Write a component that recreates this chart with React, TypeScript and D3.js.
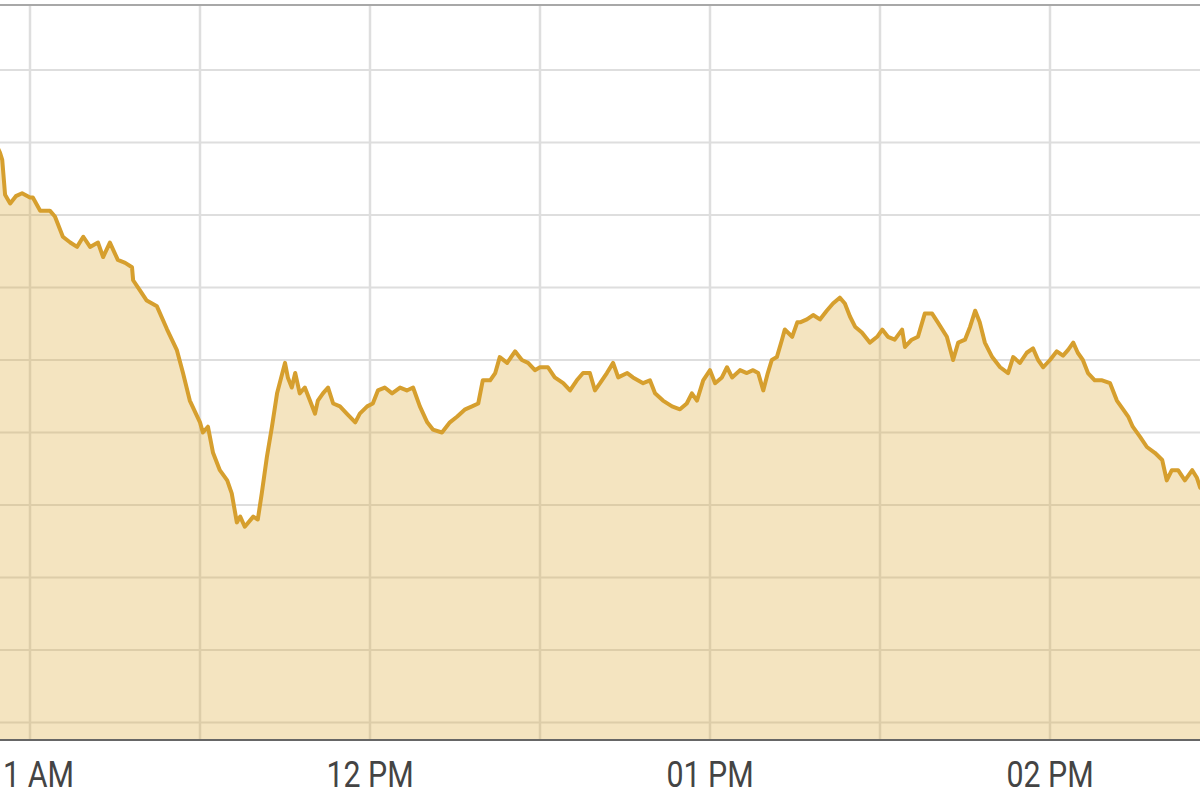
import React from 'react';
import * as d3 from 'd3';

// minutes after 11:00 and index level
const minutes = [-7.1, -5.3, -4.9, -4.4, -3.5, -2.5, -1.4, 0, 0.5, 1.8, 3.5, 4.4, 5.8, 7.1, 8.3, 9.4, 10.6, 12.0, 12.9, 14.1, 15.5, 16.8, 18.0, 18.2, 19.4, 20.6, 22.4, 24.2, 25.9, 27.0, 28.2, 30.0, 30.5, 31.4, 32.3, 33.5, 34.8, 35.6, 36.5, 37.1, 37.9, 39.4, 40.2, 40.9, 41.8, 42.7, 43.6, 45.0, 45.5, 46.2, 46.8, 47.6, 48.5, 49.4, 50.3, 50.8, 51.7, 52.6, 53.5, 54.7, 55.9, 57.4, 58.2, 59.5, 60.5, 61.4, 62.6, 63.9, 65.3, 66.5, 67.6, 68.8, 70.1, 71.1, 72.7, 74.1, 75.4, 76.8, 78.0, 79.1, 79.9, 81.2, 82.1, 82.9, 84.2, 85.6, 86.8, 87.9, 89.1, 90.0, 91.4, 92.6, 94.1, 95.3, 96.5, 97.6, 98.8, 99.7, 100.6, 101.8, 102.9, 103.8, 105.4, 106.4, 108.2, 109.4, 110.3, 111.7, 113.3, 114.7, 115.9, 116.8, 117.7, 118.8, 120.0, 120.9, 122.1, 123.0, 123.9, 125.3, 126.5, 127.6, 128.5, 129.4, 130.2, 130.9, 131.8, 132.7, 133.2, 134.5, 135.4, 135.9, 137.1, 138.2, 139.4, 140.6, 141.7, 142.9, 143.8, 144.7, 145.6, 146.8, 148.2, 149.5, 150.4, 151.4, 152.6, 153.9, 154.4, 155.6, 156.7, 157.9, 159.2, 160.2, 161.8, 162.9, 163.8, 165.0, 165.9, 166.8, 167.6, 168.5, 169.8, 171.2, 172.6, 173.5, 174.7, 175.9, 177.0, 177.9, 178.8, 180.0, 181.2, 182.3, 183.2, 184.1, 184.9, 185.8, 186.7, 187.9, 189.2, 190.6, 191.8, 192.9, 193.8, 194.6, 195.9, 197.1, 198.5, 199.8, 200.6, 201.5, 202.6, 203.8, 205.1, 205.9, 206.5, 208.2];

const values = [41408, 41393, 41388, 41364, 41358, 41363, 41365, 41362, 41362, 41353, 41353, 41349, 41335, 41331, 41328, 41335, 41328, 41331, 41321, 41331, 41319, 41317, 41314, 41305, 41298, 41291, 41287, 41271, 41257, 41241, 41222, 41207, 41200, 41204, 41186, 41174, 41167, 41158, 41138, 41142, 41135, 41142, 41140, 41158, 41183, 41204, 41227, 41248, 41238, 41231, 41241, 41227, 41231, 41222, 41213, 41222, 41227, 41231, 41220, 41218, 41213, 41207, 41213, 41218, 41220, 41229, 41231, 41227, 41231, 41229, 41231, 41218, 41207, 41202, 41200, 41207, 41211, 41216, 41218, 41220, 41236, 41236, 41241, 41252, 41248, 41256, 41250, 41248, 41243, 41245, 41245, 41238, 41234, 41229, 41236, 41241, 41241, 41229, 41234, 41241, 41248, 41238, 41241, 41238, 41234, 41236, 41227, 41222, 41218, 41216, 41220, 41227, 41222, 41236, 41243, 41234, 41238, 41245, 41238, 41243, 41241, 41243, 41241, 41229, 41241, 41250, 41252, 41264, 41271, 41266, 41276, 41276, 41278, 41281, 41278, 41284, 41289, 41293, 41289, 41280, 41273, 41269, 41262, 41266, 41271, 41266, 41264, 41271, 41259, 41264, 41266, 41282, 41282, 41276, 41266, 41250, 41262, 41264, 41273, 41284, 41276, 41262, 41252, 41245, 41241, 41252, 41248, 41255, 41258, 41250, 41245, 41250, 41256, 41253, 41257, 41262, 41255, 41250, 41241, 41236, 41236, 41234, 41222, 41216, 41211, 41204, 41197, 41190, 41186, 41181, 41167, 41174, 41174, 41167, 41174, 41169, 41162, 41157];

const yTicks = [41000, 41050, 41100, 41150, 41200, 41250, 41300, 41350, 41400, 41450];
const hourLabels = ['11:00', '12:00', '13:00', '14:00'];

const W = 1200;
const H = 800;
const top = 5;
const bottom = 740;

const t0 = new Date(2020, 0, 1, 11, 0, 0);
const toDate = (m: number) => new Date(t0.getTime() + m * 60000);
const parseHM = (s: string) => {
  const [h, m] = s.split(':').map(Number);
  return new Date(2020, 0, 1, h, m, 0);
};

const App: React.FC = () => {
  const n = Math.min(minutes.length, values.length);
  const data = d3.range(n).map(i => ({ t: toDate(minutes[i]), v: values[i] }));

  const x = d3.scaleTime()
    .domain([parseHM('11:00'), parseHM('14:00')])
    .range([30, 1050]);
  const y = d3.scaleLinear()
    .domain([41000, 41450])
    .range([722.5, 70]);

  const xGrid = d3.timeMinute.every(30)!.range(parseHM('10:30'), parseHM('15:01'));
  const fmt = d3.timeFormat('%I %p');

  const line = d3.line<{ t: Date; v: number }>()
    .x(d => x(d.t))
    .y(d => y(d.v));
  const area = d3.area<{ t: Date; v: number }>()
    .x(d => x(d.t))
    .y0(bottom)
    .y1(d => y(d.v));

  return (
    <svg
      width={W}
      height={H}
      style={{ position: 'absolute', left: 0, top: 0, background: '#fff' }}
      fontFamily="Roboto, 'Noto Sans', sans-serif"
    >
      {/* grid */}
      {yTicks.map(v => (
        <line key={v} x1={0} x2={W} y1={y(v)} y2={y(v)} stroke="#dedede" strokeWidth={2} />
      ))}
      {xGrid.map(d => (
        <line key={+d} x1={x(d)} x2={x(d)} y1={top} y2={bottom} stroke="#dedede" strokeWidth={2.5} />
      ))}
      <line x1={0} x2={W} y1={top} y2={top} stroke="#a8a8a8" strokeWidth={2} />

      {/* area + line */}
      <path d={area(data) || ''} fill="rgba(222,170,60,0.32)" />
      <path
        d={line(data) || ''}
        fill="none"
        stroke="#d69f2e"
        strokeWidth={4}
        strokeLinejoin="round"
        strokeLinecap="round"
      />

      {/* x axis */}
      <line x1={0} x2={W} y1={bottom} y2={bottom} stroke="#666" strokeWidth={2} />
      {hourLabels.map(s => {
        const d = parseHM(s);
        const cx = x(d);
        return (
          <text
            key={s}
            x={0}
            y={0}
            transform={`translate(${cx},787) scale(0.82,1)`}
            textAnchor="middle"
            fontSize={37}
            fill="#444"
          >
            {fmt(d)}
          </text>
        );
      })}
    </svg>
  );
};

export default App;
